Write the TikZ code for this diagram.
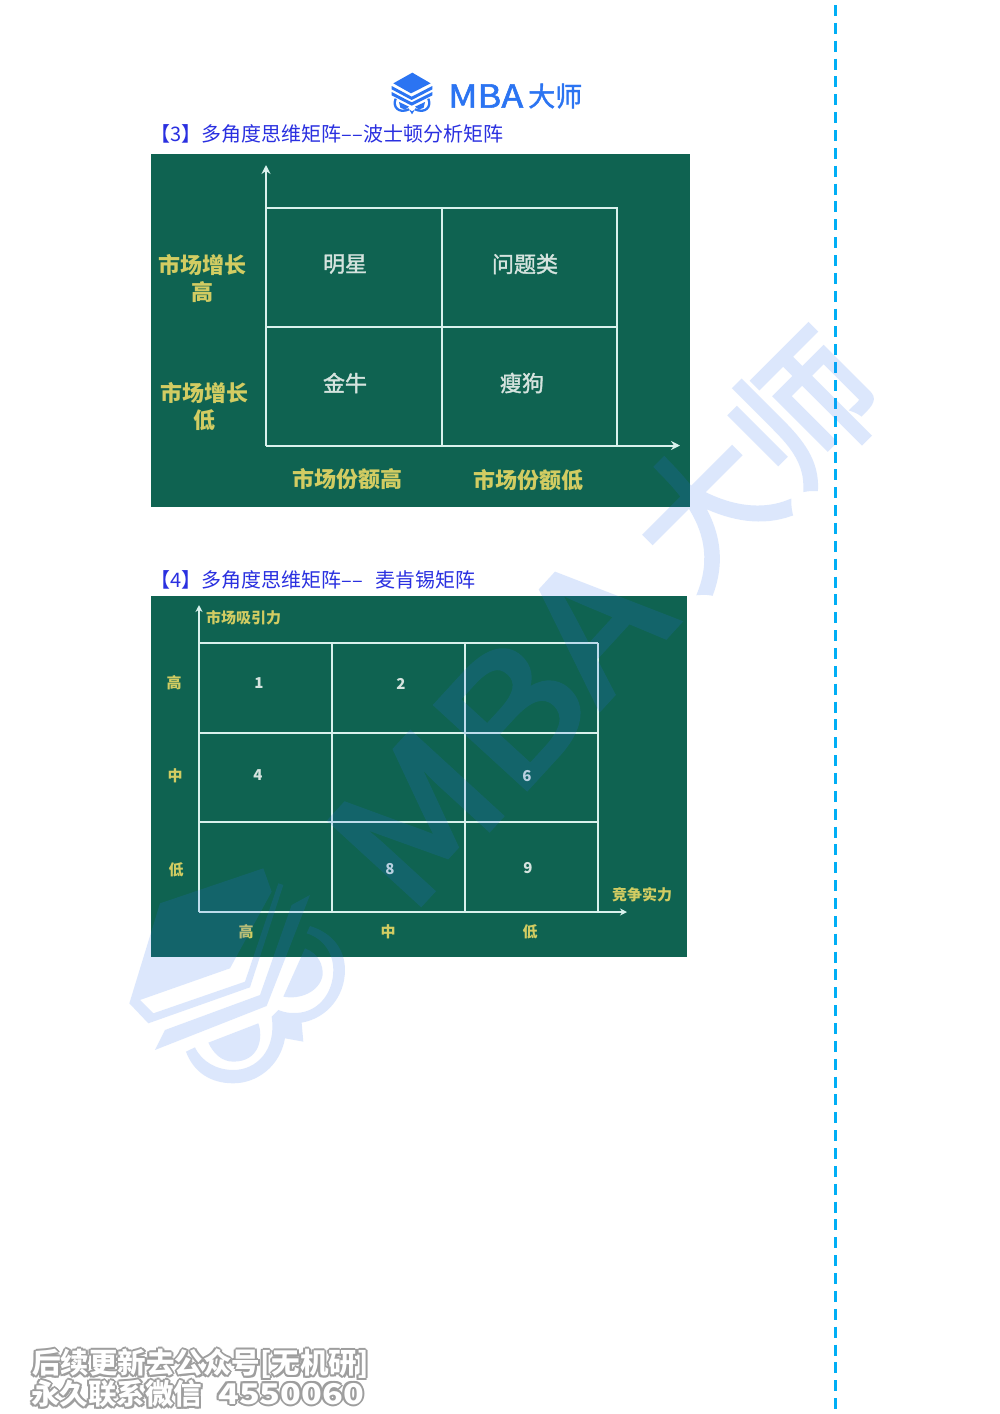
\documentclass[tikz,border=0pt]{standalone}
\usepackage{fontspec}
\usepackage{xcolor}
\setmainfont{Noto Sans CJK SC}
\newfontfamily\medfont[FakeBold=1.6]{Noto Sans CJK SC}
\newfontfamily\markfont[FakeBold=3]{Noto Sans CJK SC}
\usetikzlibrary{positioning,calc,arrows.meta}
\definecolor{boardgreen}{HTML}{0F6351}
\definecolor{gridline}{HTML}{D9F1EC}
\definecolor{chalkyellow}{HTML}{D2CC62}
\definecolor{chalkwhite}{HTML}{D5E3DE}
\definecolor{headblue}{HTML}{2A30E0}
\definecolor{logoblue}{HTML}{2B74F2}
\definecolor{markblue}{HTML}{2B6FF0}
\definecolor{dashblue}{HTML}{00AEF5}
\tikzset{
  board/.style={fill=boardgreen,draw=none},
  gridln/.style={draw=gridline,line width=2pt},
  gridlnb/.style={draw=gridline,line width=1.5pt},
  axisln/.style={draw=gridline,line width=2pt,-{Stealth[length=9pt,width=9pt]}},
  axislnb/.style={draw=gridline,line width=1.5pt,-{Stealth[length=7pt,width=7pt]}},
  headtxt/.style={anchor=west,inner sep=0pt,text=headblue,font=\fontsize{20}{20}\selectfont},
  biglbl/.style={inner sep=0pt,text=chalkyellow,font=\fontsize{22}{22}\selectfont\bfseries},
  bigcell/.style={inner sep=0pt,text=chalkwhite,font=\fontsize{22}{22}\medfont},
  smalllbl/.style={inner sep=0pt,text=chalkyellow,font=\fontsize{15}{15}\selectfont\bfseries},
  numcell/.style={inner sep=0pt,text=chalkwhite,font=\fontsize{15}{15}\selectfont\bfseries},
  markfill/.style={fill=markblue,draw=none},
  contact/.style={inner sep=0pt,anchor=west,font=\fontsize{28.5}{28.5}\selectfont\bfseries}
}
\begin{document}
\begin{tikzpicture}[x=1pt,y=-1pt]
\useasboundingbox (0,0) rectangle (1000,1414);
\fill[white] (0,0) rectangle (1000,1414);

\coordinate (dashtop) at (835,5);
\coordinate (dashend) at (835,1410);
\draw[dashblue,line width=3pt,dash pattern=on 11pt off 6.86pt] (dashtop) -- (dashend);

\begin{scope}[shift={(385,70)},x=.3333pt,y=-.3333pt]
\fill[logoblue] (82,8) -- (25,40) -- (78,70) -- (137,40) -- cycle;
\fill[logoblue] (20,48) -- (80,80) -- (142,48) -- (142,58) -- (80,90) -- (20,58) -- cycle;
\fill[logoblue] (20,66) -- (80,97) -- (142,66) -- (142,76) -- (80,107) -- (20,76) -- cycle;
\draw[logoblue,line width=2.3pt] (32,86) .. controls (22,110) and (40,132) .. (72,118);
\draw[logoblue,line width=2.3pt] (130,86) .. controls (140,110) and (122,132) .. (90,118);
\fill[logoblue] (72,118) -- (81,133) -- (90,118) -- (81,124) -- cycle;
\fill[logoblue] (42,96) -- (72,110) -- (60,119) -- (46,113) -- cycle;
\fill[logoblue] (120,96) -- (90,110) -- (102,119) -- (116,113) -- cycle;
\end{scope}
\node[inner sep=0pt,anchor=west,text=logoblue,xscale=1.13,font=\fontsize{32}{32}\medfont] (logotxt) at (448,96) {MBA};
\node[inner sep=0pt,anchor=west,text=logoblue,font=\fontsize{27}{27}\medfont] (logocn) at (528,96) {大师};

\node[headtxt] (headthree) at (150.5,134) {【3】多角度思维矩阵–{}–波士顿分析矩阵};
\node[headtxt] (headfour) at (150.5,580) {【4】多角度思维矩阵–{}–\hspace{12pt}麦肯锡矩阵};

\fill[board] (151,154) rectangle (690,507);
\coordinate (ytopa) at (266,165);
\coordinate (oa) at (266,445.5);
\coordinate (xenda) at (680,445.5);
\coordinate (tla) at (266,208);
\coordinate (tma) at (441.5,208);
\coordinate (tra) at (617,208);
\coordinate (mla) at (266,326.5);
\coordinate (mra) at (617,326.5);
\coordinate (bma) at (441.5,445.5);
\coordinate (bra) at (617,445.5);
\draw[axisln] (oa) -- (ytopa);
\draw[axisln] (oa) -- (xenda);
\draw[gridln] (tla) -- (tra) -- (bra);
\draw[gridln] (mla) -- (mra);
\draw[gridln] (tma) -- (bma);
\node[biglbl] (growhi) at (202,265) {市场增长};
\node[biglbl] (hia) at (202,292) {高};
\node[biglbl] (growlo) at (204,393) {市场增长};
\node[biglbl] (loa) at (204,420) {低};
\node[bigcell] (star) at (345,264) {明星};
\node[bigcell] (quest) at (525,264) {问题类};
\node[bigcell] (cow) at (345,383) {金牛};
\node[bigcell] (dog) at (522,383) {瘦狗};
\node[biglbl] (sharehi) at (347,479) {市场份额高};
\node[biglbl] (sharelo) at (528,480) {市场份额低};

\fill[board] (151,596) rectangle (687,957);
\coordinate (ytopb) at (199,605);
\coordinate (ob) at (199,912);
\coordinate (xendb) at (627,912);
\draw[axislnb] (ob) -- (ytopb);
\draw[axislnb] (ob) -- (xendb);
\foreach \yy/\nm in {643/a,733/b,822/c}{
  \coordinate (l\nm) at (199,\yy);
  \coordinate (r\nm) at (598,\yy);
  \draw[gridlnb] (l\nm) -- (r\nm);
}
\foreach \xx/\nm in {332/p,465/q,598/s}{
  \coordinate (t\nm) at (\xx,643);
  \coordinate (b\nm) at (\xx,912);
  \draw[gridlnb] (t\nm) -- (b\nm);
}
\node[smalllbl] (attract) at (243.5,618) {市场吸引力};
\node[smalllbl] (strength) at (642,895) {竞争实力};
\node[smalllbl] (rowhi) at (174,683) {高};
\node[smalllbl] (rowmid) at (175,776) {中};
\node[smalllbl] (rowlo) at (176,870) {低};
\node[smalllbl] (colhi) at (246,932) {高};
\node[smalllbl] (colmid) at (388,932) {中};
\node[smalllbl] (collo) at (530,932) {低};
\node[numcell] (one) at (259,683) {1};
\node[numcell] (two) at (401,684) {2};
\node[numcell] (four) at (258,775) {4};
\node[numcell] (six) at (527,776) {6};
\node[numcell] (eight) at (390,869) {8};
\node[numcell] (nine) at (528,868) {9};

\begin{scope}[transparency group,opacity=.16]
\node[rotate=47.5,xscale=1.15,anchor=base west,inner sep=0pt,text=markblue,font=\fontsize{168}{168}\markfont] (markmba) at (408,918) {MBA};
\node[rotate=45,inner sep=0pt,text=markblue,font=\fontsize{140}{140}\markfont] (markcn) at (755,459) {大师};
\begin{scope}[shift={(110,850)},x=.3333pt,y=-.3333pt]
\fill[markfill] (460,55) -- (150,160) -- (58,460) -- (115,520) -- (420,412) -- (520,105) -- (505,100) -- (405,395) -- (130,490) -- (90,450) -- (360,355) -- (485,125) -- cycle;
\fill[markfill] (600,135) -- (545,165) -- (450,435) -- (165,540) -- (135,600) -- (470,468) -- cycle;
\fill[markfill] (600,228) .. controls (670,250) and (705,300) .. (705,360) .. controls (705,440) and (650,505) .. (575,518) -- (580,575) -- (525,565) .. controls (510,650) and (440,700) .. (370,700) .. controls (300,700) and (250,665) .. (228,605) -- (255,592) .. controls (275,635) and (320,660) .. (370,660) .. controls (440,660) and (500,600) .. (485,500) -- (505,480) .. controls (530,490) and (550,490) .. (570,488) .. controls (630,480) and (670,425) .. (670,360) .. controls (670,310) and (640,265) .. (590,250) -- cycle;
\fill[markfill] (585,295) .. controls (625,310) and (640,345) .. (638,375) .. controls (630,425) and (570,450) .. (520,440) -- cycle;
\fill[markfill] (445,520) .. controls (460,560) and (450,635) .. (370,635) .. controls (335,635) and (310,610) .. (295,578) -- cycle;
\end{scope}
\end{scope}

\foreach \dx/\dy in {-2/0,2/0,0/-2,0/2,-1.5/-1.5,1.5/-1.5,-1.5/1.5,1.5/1.5}{
  \node[contact,text=black!38] at (32+\dx,1364+\dy) {后续更新去公众号[无机研]};
  \node[contact,text=black!38] at (31+\dx,1394+\dy) {永久联系微信};
  \node[contact,text=black!38,xscale=1.2] at (218+\dx,1394+\dy) {4550060};
}
\node[contact,text=white] (contacta) at (32,1364) {后续更新去公众号[无机研]};
\node[contact,text=white] (contactb) at (31,1394) {永久联系微信};
\node[contact,text=white,xscale=1.2] (contactc) at (218,1394) {4550060};
\end{tikzpicture}
\end{document}
